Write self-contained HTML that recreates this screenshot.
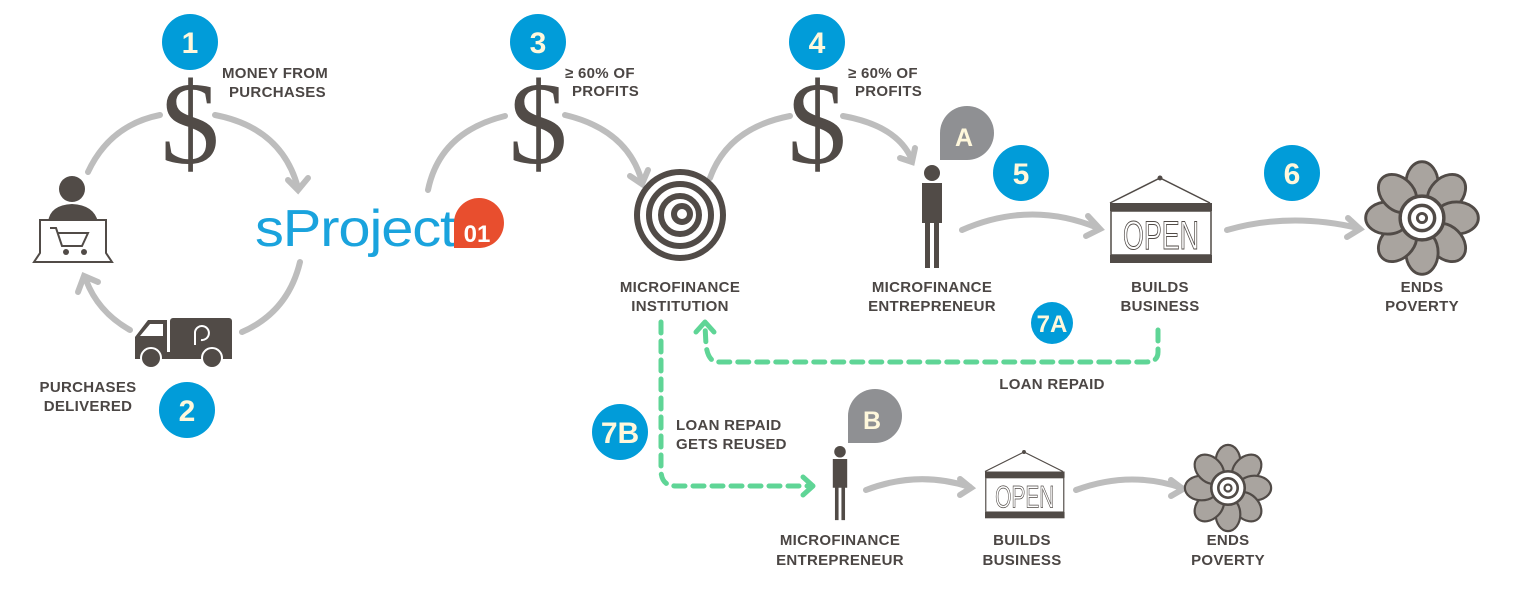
<!DOCTYPE html>
<html><head><meta charset="utf-8"><style>
html,body{margin:0;padding:0;background:#fff;}
svg{display:block}
.t{font-family:"Liberation Sans",sans-serif;font-weight:bold;font-size:15px;fill:#4b4644;letter-spacing:0.3px}
.n{font-family:"Liberation Sans",sans-serif;font-weight:bold;font-size:30px;fill:#fff8dc;text-anchor:middle}
.d{font-family:"Liberation Serif",serif;font-size:118px;fill:#514b47;text-anchor:middle}
.arc{fill:none;stroke:#bdbdbd;stroke-width:6;stroke-linecap:round}
.g{fill:none;stroke:#5fd596;stroke-width:5;stroke-dasharray:11 8;stroke-linecap:round}
.gh{fill:none;stroke:#5fd596;stroke-width:5;stroke-linecap:round;stroke-linejoin:round}
</style></head><body>
<svg width="1522" height="604" viewBox="0 0 1522 604" xmlns="http://www.w3.org/2000/svg">
<defs>
<g id="flower">
<g fill="#a9a49f" stroke="#514b47" stroke-width="2.5">
<ellipse cx="0" cy="-30" rx="14" ry="19"/>
<ellipse cx="0" cy="-30" rx="14" ry="19" transform="rotate(45)"/>
<ellipse cx="0" cy="-30" rx="14" ry="19" transform="rotate(90)"/>
<ellipse cx="0" cy="-30" rx="14" ry="19" transform="rotate(135)"/>
<ellipse cx="0" cy="-30" rx="14" ry="19" transform="rotate(180)"/>
<ellipse cx="0" cy="-30" rx="14" ry="19" transform="rotate(225)"/>
<ellipse cx="0" cy="-30" rx="14" ry="19" transform="rotate(270)"/>
<ellipse cx="0" cy="-30" rx="14" ry="19" transform="rotate(315)"/>
</g>
<circle r="19" fill="#fff" stroke="#514b47" stroke-width="3"/>
<circle r="11" fill="none" stroke="#514b47" stroke-width="3"/>
<circle r="4" fill="none" stroke="#514b47" stroke-width="2.5"/>
</g>
<g id="sign">
<path d="M0,25 L50,0 L100,25" fill="none" stroke="#514b47" stroke-width="1.5"/>
<circle cx="50" cy="0" r="2.5" fill="#514b47"/>
<rect x="0" y="25" width="102" height="8" fill="#514b47"/>
<rect x="1" y="33" width="100" height="44" fill="#fff" stroke="#514b47" stroke-width="1.5"/>
<rect x="0" y="77" width="102" height="8" fill="#514b47"/>
<text x="51" y="71" text-anchor="middle" style="font-family:'Liberation Sans Narrow','Liberation Sans',sans-serif;font-size:40px;fill:none;stroke:#514b47;stroke-width:1" textLength="76" lengthAdjust="spacingAndGlyphs">OPEN</text>
</g>
<g id="person">
<circle cx="0" cy="8" r="8" fill="#514b47"/>
<path d="M-10,18 h20 v40 h-3 v45 h-5 v-45 h-4 v45 h-5 v-45 h-3 v-40z" fill="#514b47"/>
</g>
</defs>

<path class="arc" d="M88,172 Q110,125 160,115"/>
<path class="arc" d="M215,115 Q282,128 298,188"/>
<path class="arc" d="M288,180 L298,190 L308,178"/>
<path class="arc" d="M300,262 Q288,312 242,332"/>
<path class="arc" d="M130,330 Q98,312 86,280"/>
<path class="arc" d="M78,292 L84,276 L98,282"/>
<path class="arc" d="M428,190 Q440,132 505,116"/>
<path class="arc" d="M565,115 Q628,130 642,182"/>
<path class="arc" d="M630,176 L642,184 L648,170"/>
<path class="arc" d="M710,178 Q728,128 790,116"/>
<path class="arc" d="M843,116 Q898,126 912,160"/>
<path class="arc" d="M900,158 L912,162 L915,148"/>
<path class="arc" d="M962,230 Q1030,200 1098,228"/>
<path class="arc" d="M1088,216 L1100,229 L1086,236"/>
<path class="arc" d="M1227,230 Q1290,212 1358,228"/>
<path class="arc" d="M1348,218 L1360,229 L1347,237"/>
<path class="arc" d="M866,490 Q918,470 970,487"/>
<path class="arc" d="M960,479 L971,488 L960,495"/>
<path class="arc" d="M1076,490 Q1130,470 1182,488"/>
<path class="arc" d="M1171,480 L1183,489 L1171,496"/>

<path class="g" d="M1158,330 V352 Q1158,362 1146,362 H718 Q708,362 706,345 L705,325"/>
<path class="gh" d="M696,332 L705,322 L714,332"/>
<path class="g" d="M661,322 V470 Q661,486 676,486 H808"/>
<path class="gh" d="M803,477 L813,486 L803,495"/>

<g fill="#019cd9">
<circle cx="190" cy="42" r="28"/><circle cx="187" cy="410" r="28"/>
<circle cx="538" cy="42" r="28"/><circle cx="817" cy="42" r="28"/>
<circle cx="1021" cy="173" r="28"/><circle cx="1292" cy="173" r="28"/>
<circle cx="1052" cy="323" r="21"/><circle cx="620" cy="432" r="28"/>
</g>
<text class="n" x="190" y="53">1</text><text class="n" x="187" y="421">2</text>
<text class="n" x="538" y="53">3</text><text class="n" x="817" y="53">4</text>
<text class="n" x="1021" y="184">5</text><text class="n" x="1292" y="184">6</text>
<text class="n" x="1052" y="332" style="font-size:24px">7A</text>
<text class="n" x="620" y="443">7B</text>

<path d="M940,160 V133 A27,27 0 1 1 967,160 Z" fill="#8f9093"/>
<text class="n" x="964" y="146" style="font-size:25px">A</text>
<path d="M848,443 V416 A27,27 0 1 1 875,443 Z" fill="#8f9093"/>
<text class="n" x="872" y="429" style="font-size:25px">B</text>

<text class="d" x="190" y="163">$</text>
<text class="d" x="538" y="163">$</text>
<text class="d" x="817" y="163">$</text>

<g class="t">
<text x="222" y="78">MONEY FROM</text><text x="229" y="97">PURCHASES</text>
<text x="565" y="78">≥ 60% OF</text><text x="572" y="96">PROFITS</text>
<text x="848" y="78">≥ 60% OF</text><text x="855" y="96">PROFITS</text>
</g>
<g class="t" text-anchor="middle">
<text x="88" y="392">PURCHASES</text><text x="88" y="411">DELIVERED</text>
<text x="680" y="292">MICROFINANCE</text><text x="680" y="311">INSTITUTION</text>
<text x="932" y="292">MICROFINANCE</text><text x="932" y="311">ENTREPRENEUR</text>
<text x="1160" y="292">BUILDS</text><text x="1160" y="311">BUSINESS</text>
<text x="1422" y="292">ENDS</text><text x="1422" y="311">POVERTY</text>
<text x="1052" y="389">LOAN REPAID</text>
<text x="840" y="545">MICROFINANCE</text><text x="840" y="565">ENTREPRENEUR</text>
<text x="1022" y="545">BUILDS</text><text x="1022" y="565">BUSINESS</text>
<text x="1228" y="545">ENDS</text><text x="1228" y="565">POVERTY</text>
</g>
<g class="t"><text x="676" y="430">LOAN REPAID</text><text x="676" y="449">GETS REUSED</text></g>

<circle cx="72" cy="189" r="13" fill="#514b47"/>
<path d="M48,222 Q50,205 72,204 Q94,205 98,222Z" fill="#514b47"/>
<path d="M40,220 H106 V253 L112,262 H34 L40,253Z" fill="#fff" stroke="#514b47" stroke-width="2"/>
<path d="M50,228 H56 L62,246 H82 L88,233 H58" fill="none" stroke="#514b47" stroke-width="2"/>
<circle cx="66" cy="252" r="3" fill="#514b47"/><circle cx="84" cy="252" r="3" fill="#514b47"/>

<path d="M135,352 V337 L148,320 H167 V352Z" fill="#514b47"/>
<rect x="170" y="318" width="62" height="37" rx="3" fill="#514b47"/>
<rect x="135" y="352" width="97" height="7" fill="#514b47"/>
<path d="M140,336 L150,324 H163 V336Z" fill="#fff"/>
<circle cx="151" cy="358" r="10" fill="#514b47" stroke="#fff" stroke-width="2"/>
<circle cx="212" cy="358" r="10" fill="#514b47" stroke="#fff" stroke-width="2"/>
<path d="M195,345 V332 A7,7 0 1 1 201,340" fill="none" stroke="#fff" stroke-width="2"/>

<text x="255" y="246" style="font-family:'Liberation Sans',sans-serif;font-size:52px;fill:#1aa3dd;letter-spacing:-1px" textLength="200" lengthAdjust="spacingAndGlyphs">sProject</text>
<path d="M454,248 V222 A25,25 0 1 1 480,248Z" fill="#e84e2e"/>
<text x="477" y="242" text-anchor="middle" style="font-family:'Liberation Sans',sans-serif;font-weight:bold;font-size:24px;fill:#fff">01</text>

<g fill="none" stroke="#514b47" stroke-width="6">
<circle cx="680" cy="215" r="43"/>
<circle cx="680" cy="215" r="31"/>
<circle cx="680" cy="215" r="19"/>
<circle cx="682" cy="214" r="8"/>
</g>

<use href="#person" x="932" y="165"/>
<use href="#sign" x="1110" y="178"/>
<use href="#flower" transform="translate(1422,218) scale(1.15)"/>
<use href="#person" transform="translate(840,446) scale(0.72)"/>
<use href="#sign" transform="translate(985,452) scale(0.78)"/>
<use href="#flower" transform="translate(1228,488) scale(0.88)"/>
</svg>
</body></html>
